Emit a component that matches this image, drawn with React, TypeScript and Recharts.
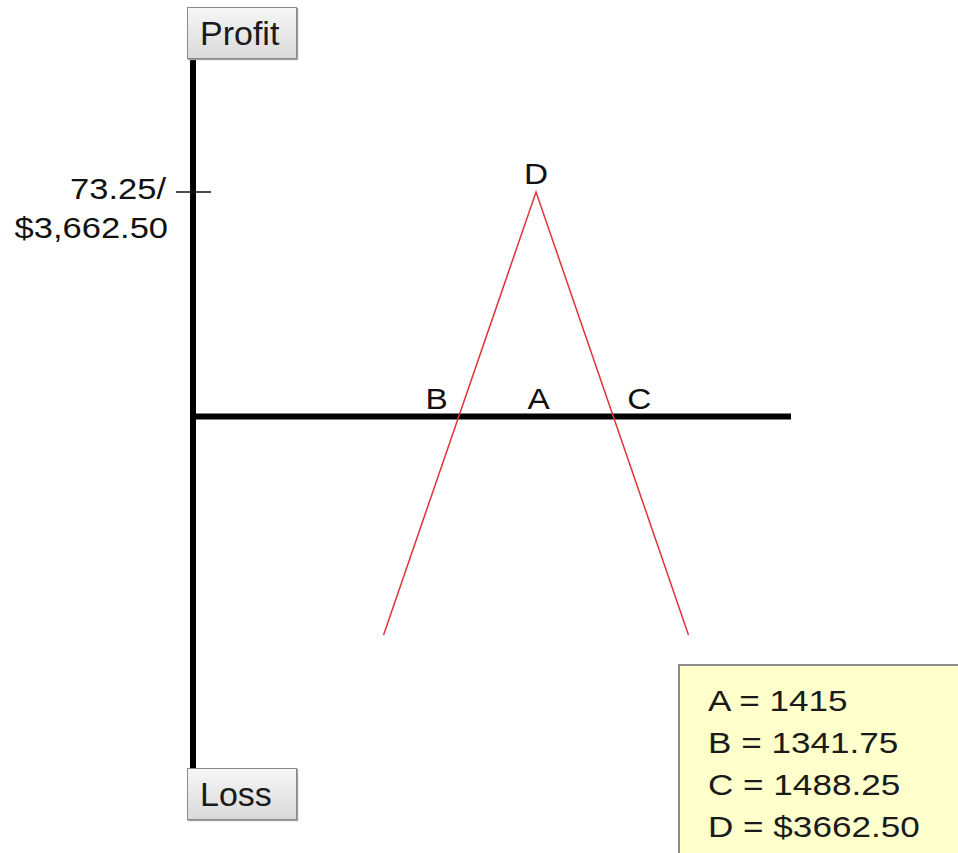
import { ComposedChart, Line, XAxis, YAxis, ReferenceLine, ReferenceDot } from "recharts";

// payoff line (price -> profit in points)
const payoffPrices = [1272.5, 1415, 1557.5];
const payoffPnl = [-71.3, 73.25, -71.3];

// labelled points
const markerNames = ["B", "A", "C", "D"];
const markerPrices = [1341.75, 1415, 1488.25, 1415];
const markerPnl = [0, 0, 0, 73.25];

const maxProfit = 73.25;
const maxProfitLabel = ["73.25/", "$3,662.50"];
const legendLines = ["A = 1415", "B = 1341.75", "C = 1488.25", "D = $3662.50"];

const xDomain = [1094.4, 1653.3];
const yDomain = [-116, 116.3];

const data = payoffPrices.map((price, i) => ({ price, pnl: payoffPnl[i] }));

const FONT = '"Liberation Sans", Arial, sans-serif';
const STRETCH = 1.15;

// horizontal nudges so letters sit beside the crossings
const labelDx: Record<string, number> = { B: -21, A: 2.5, C: 25, D: 0 };

function PointLabel(props: any) {
    const { viewBox, text } = props;
    if (!viewBox) return null;
    const cx = viewBox.x + (viewBox.width || 0) / 2 + (labelDx[text] || 0);
    const cy = viewBox.y + (viewBox.height || 0) / 2 - 7.5;
    return (
        <g transform={`translate(${cx}, ${cy}) scale(${STRETCH}, 1)`}>
            <text x={0} y={0} textAnchor="middle" fontFamily={FONT} fontSize={29} fill="#111">
                {text}
            </text>
        </g>
    );
}

function ProfitTick(props: any) {
    const { x1, y1 } = props;
    if (x1 == null || y1 == null) return null;
    return (
        <g>
            <line x1={x1 - 17} x2={x1 + 18} y1={y1} y2={y1} stroke="#111" strokeWidth={1.5} />
            <g transform={`translate(${x1 - 27}, ${y1 + 7}) scale(${STRETCH}, 1)`}>
                <text x={0} y={0} textAnchor="end" fontFamily={FONT} fontSize={30} fill="#111">
                    {maxProfitLabel[0]}
                </text>
            </g>
            <g transform={`translate(${x1 - 25}, ${y1 + 46}) scale(${STRETCH}, 1)`}>
                <text x={0} y={0} textAnchor="end" fontFamily={FONT} fontSize={30} fill="#111">
                    {maxProfitLabel[1]}
                </text>
            </g>
        </g>
    );
}

const buttonStyle: React.CSSProperties = {
    position: "absolute",
    left: 187,
    width: 110,
    height: 52,
    boxSizing: "border-box",
    border: "1px solid #8a8a8a",
    boxShadow: "1px 1px 1px #a0a0a0",
    background: "linear-gradient(#f6f6f6, #dadada)",
    display: "flex",
    alignItems: "center",
    paddingLeft: 12,
    fontFamily: FONT,
    fontSize: 34,
    color: "#1a1a1a",
};

export default function App() {
    return (
        <div
            style={{
                position: "absolute",
                left: 0,
                top: 0,
                width: 958,
                height: 853,
                overflow: "hidden",
                background: "#fff",
            }}
        >
            <ComposedChart
                width={958}
                height={853}
                data={data}
                margin={{ top: 60, right: 167, bottom: 81, left: 193 }}
            >
                <XAxis type="number" dataKey="price" domain={xDomain} hide allowDataOverflow />
                <YAxis type="number" domain={yDomain} hide allowDataOverflow />
                <ReferenceLine x={xDomain[0]} stroke="#000" strokeWidth={6} ifOverflow="visible" />
                <ReferenceLine y={0} stroke="#000" strokeWidth={6} ifOverflow="visible" />
                <ReferenceLine y={maxProfit} ifOverflow="visible" shape={<ProfitTick />} />
                {markerNames.map((name, i) => (
                    <ReferenceDot
                        key={name}
                        x={markerPrices[i]}
                        y={markerPnl[i]}
                        r={1}
                        fill="none"
                        stroke="none"
                        ifOverflow="visible"
                        label={<PointLabel text={name} />}
                    />
                ))}
                <Line
                    type="linear"
                    dataKey="pnl"
                    stroke="#e2323a"
                    strokeWidth={1.5}
                    dot={false}
                    isAnimationActive={false}
                />
            </ComposedChart>

            <div style={{ ...buttonStyle, top: 7 }}>Profit</div>
            <div style={{ ...buttonStyle, top: 768 }}>Loss</div>

            <div
                style={{
                    position: "absolute",
                    left: 678,
                    top: 664,
                    width: 320,
                    height: 220,
                    boxSizing: "border-box",
                    border: "2px solid #8c8c8c",
                    background: "#ffffcc",
                    paddingTop: 14,
                    paddingLeft: 28,
                    fontFamily: FONT,
                    fontSize: 30,
                    lineHeight: "42px",
                    color: "#1a1a1a",
                }}
            >
                {legendLines.map((line) => (
                    <div
                        key={line}
                        style={{ transform: "scaleX(1.17)", transformOrigin: "left", whiteSpace: "nowrap" }}
                    >
                        {line}
                    </div>
                ))}
            </div>
        </div>
    );
}
